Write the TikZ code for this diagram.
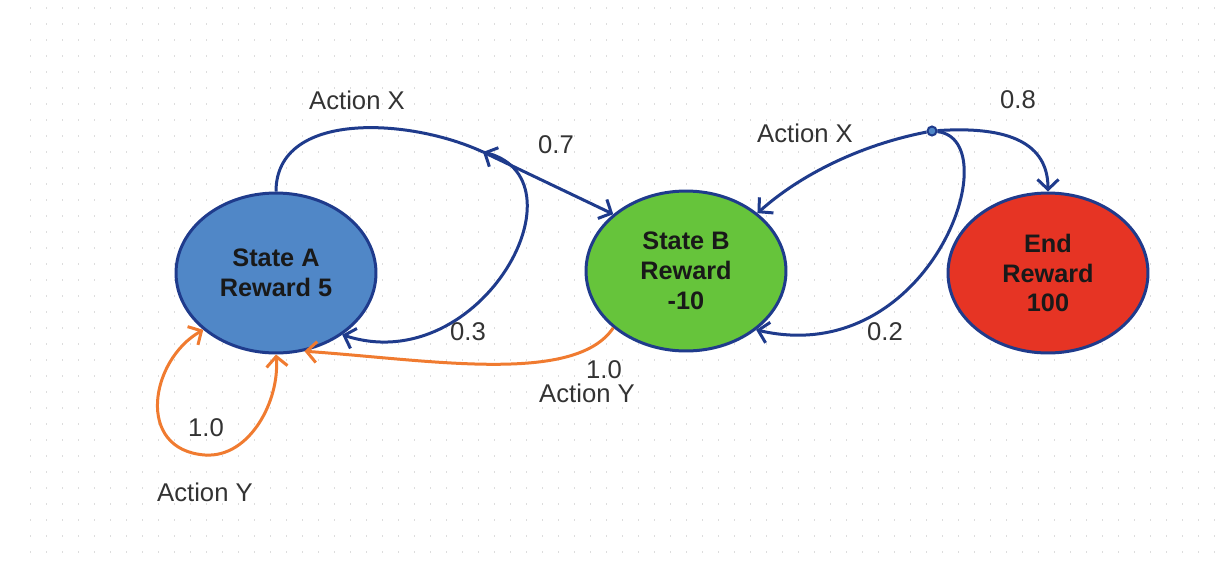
\documentclass[tikz,border=0pt]{standalone}
\usepackage{fontspec}
\setmainfont{Liberation Sans}
\usepackage{tikz}
\usetikzlibrary{shapes.geometric, arrows.meta}

\definecolor{navyline}{HTML}{1F3B8C}
\definecolor{orangeline}{HTML}{F07B30}
\definecolor{stateblue}{HTML}{5087C7}
\definecolor{stategreen}{HTML}{66C43B}
\definecolor{endred}{HTML}{E63424}
\definecolor{labelgray}{HTML}{333333}
\definecolor{dotgray}{HTML}{DDDDDD}

\tikzset{
	statenode/.style={shape=ellipse, draw=navyline, line width=0.06cm, minimum width=4cm, minimum height=3.2cm, inner sep=0pt, align=center, text=black!90, font=\fontsize{14.4pt}{17pt}\selectfont\bfseries},
	lbl/.style={text=labelgray, inner sep=1pt, font=\fontsize{14.6pt}{17pt}\selectfont},
	navyedge/.style={draw=navyline, line width=0.06cm},
	orangeedge/.style={draw=orangeline, line width=0.06cm},
	barb/.tip={Straight Barb[length=0.2cm, width=0.42cm, line width=0.06cm]},
	jdot/.style={shape=circle, draw=navyline, fill=stateblue, line width=0.04cm, minimum size=0.18cm, inner sep=0pt}
}

\begin{document}
\begin{tikzpicture}[x=0.02cm, y=-0.02cm]
	\useasboundingbox[fill=white] (0,0) rectangle (1218,566);
	% dotted grid
	\foreach \i in {0,...,74}
		\foreach \j in {0,...,34}
			\fill[dotgray] ({30.2+16*\i},{6.5+16*\j}) rectangle +(1.2,2);

	\node[statenode, fill=stateblue] (A) at (276,273) {State A\\Reward 5};
	\node[statenode, fill=stategreen] (B) at (686,271) {State B\\Reward\\-10};
	\node[statenode, fill=endred] (E) at (1048,273) {End\\Reward\\100};

	\coordinate (J1) at (483,152);
	\node[jdot] (J2) at (932,131) {};

	\path [navyedge] (A.north) .. controls (276,110) and (410,118) .. (J1);
	\path [navyedge, barb-barb] (J1) -- (B.142);
	\path [navyedge, -barb] (J1) .. controls (592,175) and (482,380) .. (A.-43);

	\path [navyedge, -barb] (J2) .. controls (860,145) and (800,175) .. (B.39);
	\path [navyedge, -barb] (J2) .. controls (1020,125) and (1048,150) .. (E.north);
	\path [navyedge, -barb] (J2) .. controls (1010,140) and (930,370) .. (B.-40);

	\path [orangeedge, -barb] (B.218) .. controls (575,385) and (430,360) .. (A.290);
	\path [orangeedge, barb-barb] (A.218) .. controls (150,360) and (135,450) .. (205,455)
		.. controls (250,458) and (280,400) .. (A.south);

	\node[lbl] (ax1) at (357,100) {Action X};
	\node[lbl] (p07) at (556,145) {0.7};
	\node[lbl] (p03) at (468,332) {0.3};
	\node[lbl] (p10a) at (206,428) {1.0};
	\node[lbl] (ay1) at (205,492) {Action Y};
	\node[lbl] (p10b) at (604,370) {1.0};
	\node[lbl] (ay2) at (587,393) {Action Y};
	\node[lbl] (ax2) at (805,133) {Action X};
	\node[lbl] (p08) at (1018,100) {0.8};
	\node[lbl] (p02) at (885,332) {0.2};
\end{tikzpicture}
\end{document}
